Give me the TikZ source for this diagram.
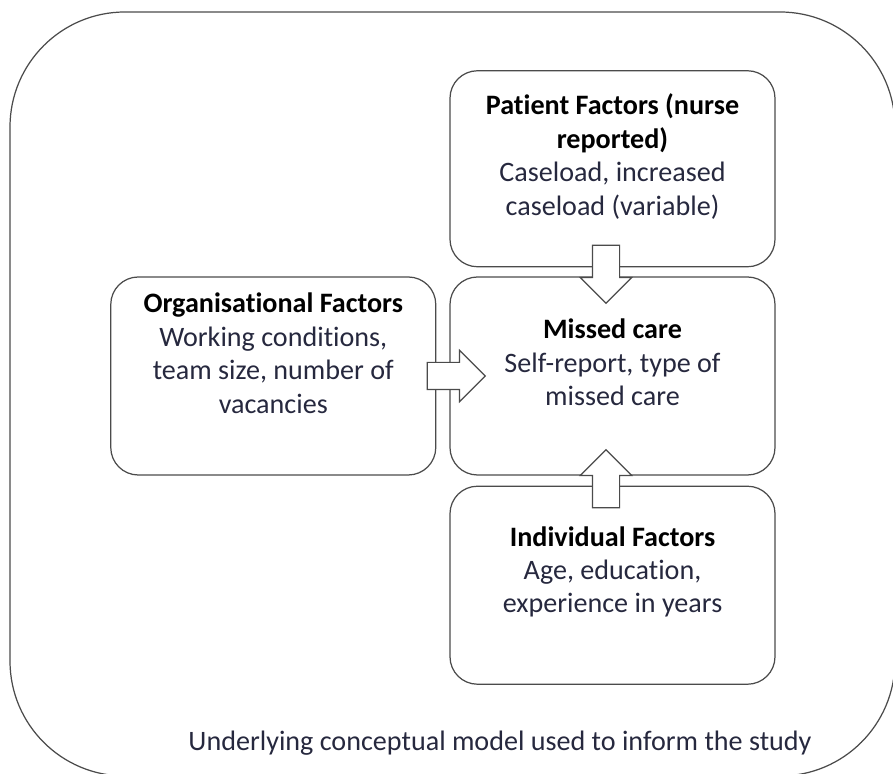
\documentclass[tikz,border=0pt]{standalone}
\usepackage{fontspec}
\setmainfont{Carlito}[Ligatures=NoCommon]
\usetikzlibrary{positioning,shapes.arrows}

\definecolor{boxline}{RGB}{75,75,75}
\definecolor{bodytext}{RGB}{38,40,62}
\newcommand{\hd}[1]{\textcolor{black}{\textbf{#1}}}

\begin{document}
\begin{tikzpicture}[
  box/.style={draw=boxline, line width=0.7pt, rounded corners=0.55cm, minimum width=6.5cm, minimum height=3.96cm},
  txt/.style={anchor=north, align=center, inner sep=0pt, text=bodytext, font=\fontsize{16}{19}\selectfont},
  fat/.style={single arrow, draw=boxline, fill=white, line width=0.7pt, minimum height=1.16cm, single arrow head extend=0.24cm, single arrow tip angle=90, inner xsep=0pt, inner ysep=0.26cm}
]

\def\xr{17.86}; % right edge
\def\yt{15.48}; % top edge
\clip (0, 0) rectangle (\xr, \yt);

% outer frame
\draw[boxline, line width=0.7pt, rounded corners=2.3cm] (0.2, -0.04) rectangle (17.9, 15.24);

% factor boxes
\node[box] (miss) at (12.25, 7.96) {};
\node[box, minimum height=3.92cm, above=0.18cm of miss] (pat) {};
\node[box, below=0.2cm of miss] (ind) {};
\node[box, left=0.26cm of miss] (org) {};

\node[txt, below=0.47cm of pat.north] (pattxt) {\hd{Patient Factors (nurse}\\\hd{reported)}\\Caseload, increased\\caseload (variable)};
\node[txt, below=0.85cm of miss.north] (misstxt) {\hd{Missed care}\\Self-report, type of\\missed care};
\node[txt, below=0.33cm of org.north] (orgtxt) {\hd{Organisational Factors}\\Working conditions,\\team size, number of\\vacancies};
\node[txt, below=0.81cm of ind.north] (indtxt) {\hd{Individual Factors}\\Age, education,\\experience in years};

% block arrows
\node[fat, rotate=-90] (down) at ([xshift=-0.13cm]pat.south) {};
\node[fat] (right) at (miss.west) {};
\node[fat, rotate=90] (up) at ([xshift=-0.13cm]ind.north) {};

\node[txt, anchor=center] (cap) at (10.0, 0.62) {Underlying conceptual model used to inform the study};

\end{tikzpicture}
\end{document}
